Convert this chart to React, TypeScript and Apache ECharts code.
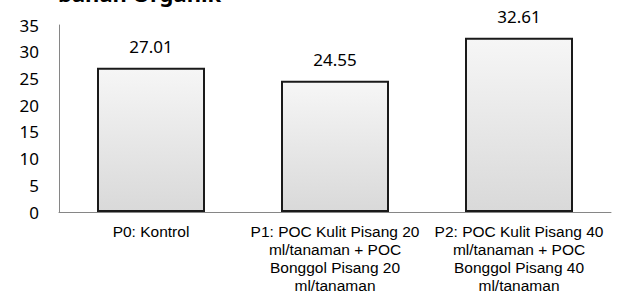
import React, { useEffect, useRef } from "react";
import * as echarts from "echarts";

const categories = [
  "P0: Kontrol",
  "P1: POC Kulit Pisang 20\nml/tanaman + POC\nBonggol Pisang 20\nml/tanaman",
  "P2: POC Kulit Pisang 40\nml/tanaman + POC\nBonggol Pisang 40\nml/tanaman",
];
const values = [27.01, 24.55, 32.61];
const yTicks = { min: 0, max: 35, interval: 5 };
const titleText = "bahan Organik";

export default function App() {
  const ref = useRef<HTMLDivElement>(null);
  useEffect(() => {
    document.body.style.margin = "0";
    const chart = echarts.init(ref.current!, null, { renderer: "svg" });
    chart.setOption({
      animation: false,
      backgroundColor: "#ffffff",
      graphic: [
        {
          type: "text",
          left: 58,
          top: -18,
          style: {
            text: titleText,
            fontFamily: "Noto Sans",
            fontWeight: "bold",
            fontSize: 22,
            fill: "#000",
          },
        },
      ],
      grid: { left: 59, right: 7, top: 25, bottom: 80 },
      xAxis: {
        type: "category",
        data: categories,
        axisLine: { lineStyle: { color: "#868686", width: 1 } },
        axisTick: { show: false },
        axisLabel: {
          interval: 0,
          margin: 10,
          color: "#000",
          fontFamily: "Liberation Sans",
          fontSize: 15.5,
          lineHeight: 18,
          align: "center",
        },
      },
      yAxis: {
        type: "value",
        min: yTicks.min,
        max: yTicks.max,
        interval: yTicks.interval,
        splitLine: { show: false },
        axisLine: { show: true, lineStyle: { color: "#868686", width: 1 } },
        axisTick: { show: false },
        axisLabel: {
          margin: 20,
          color: "#000",
          fontFamily: "Noto Sans",
          fontSize: 17,
        },
      },
      series: [
        {
          type: "bar",
          data: values,
          barWidth: 108,
          itemStyle: {
            color: new echarts.graphic.LinearGradient(0, 0, 0, 1, [
              { offset: 0, color: "#f6f6f6" },
              { offset: 1, color: "#d9d9d9" },
            ]),
            borderColor: "#1a1a1a",
            borderWidth: 2,
          },
          label: {
            show: true,
            position: "top",
            distance: 13,
            color: "#000",
            fontFamily: "Noto Sans",
            fontSize: 17,
            formatter: (p: any) => p.value.toFixed(2),
          },
        },
      ],
    });
    return () => chart.dispose();
  }, []);
  return <div ref={ref} style={{ width: 618, height: 294 }} />;
}
